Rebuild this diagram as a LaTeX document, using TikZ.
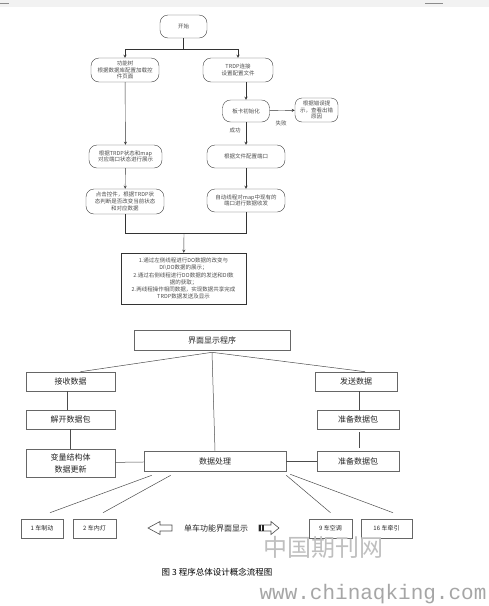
\documentclass[tikz,border=0pt]{standalone}
\usepackage{fontspec}
\setmainfont{Noto Sans CJK SC}
\newfontfamily\urlfont{Liberation Mono}
\usetikzlibrary{positioning}

\begin{document}
\begin{tikzpicture}[x=1pt,y=-1pt,>=stealth,
  fbox/.style={draw=black!75,rounded corners=8pt,align=center,inner sep=0pt,
    minimum height=23pt,font=\fontsize{5.5}{6.6}\selectfont,text=black!70},
  lbl/.style={font=\fontsize{5.5}{6.6}\selectfont,text=black!70},
  pbox/.style={draw=black!60,line width=0.6pt,align=center,inner sep=0pt,
    minimum height=19pt,font=\fontsize{8}{10}\selectfont,text=black!85},
  cbox/.style={pbox,font=\fontsize{6}{7}\selectfont},
  fan/.style={draw=black!70,line width=0.5pt}]
\useasboundingbox (0,0) rectangle (489,606);

% 页眉
\fill[black!5] (0,0) rectangle (489,7);
\draw[black!45] (0,3) -- (9,3);
\draw[black!45,line width=1pt] (425,3) -- (443,3);

% 流程图（上）
\node[fbox,minimum width=47pt] (start) at (183.5,26.5) {开始};
\node[fbox,minimum width=68pt,minimum height=24pt] (tree) at (125,70) {功能树\\根据数据库配置加载控\\件页面};
\node[fbox,minimum width=70pt,minimum height=24pt] (trdp) at (238,70) {TRDP连接\\设置配置文件};
\node[fbox,minimum width=47pt,minimum height=22pt] (init) at (246,111) {板卡初始化};
\node[fbox,minimum width=43pt,minimum height=24pt,rounded corners=7pt] (err) at (316.5,110) {根据错误提\\示，查看出错\\原因};
\node[fbox,minimum width=78pt] (cfg) at (246,156.5) {根据文件配置端口};
\node[fbox,minimum width=78pt] (auto) at (246,200.5) {自动线程对map中现有的\\端口进行数据收发};
\node[fbox,minimum width=73pt] (show) at (125.5,156.5) {根据TRDP状态和map\\对应端口状态进行展示};
\node[fbox,minimum width=78pt,minimum height=25pt] (click) at (125,201.5) {点击控件，根据TRDP状\\态判断是否改变当前状态\\和对应数据};
\node[draw=black!80,minimum width=125pt,minimum height=51pt,inner sep=0pt,align=center,
  font=\fontsize{5.5}{7.2}\selectfont,text=black!70] (note) at (183.5,278.5)
  {1.通过左侧线程进行DO数据的改变与\\DI\textbackslash DO数据的展示；\\2.通过右侧线程进行DO数据的发送和DI数\\据的获取；\\2.两线程操作相同数据，实现数据共享完成\\TRDP数据发送及显示};

\coordinate (fork) at (183.5,49);
\coordinate (merge) at (184,233);
\draw[black!80] (start) -- (fork);
\draw[black!80,->] (fork) -| (tree);
\draw[black!80,->] (fork) -| (trdp);
\draw[black!80,->] (trdp.south -| init) -- (init);
\draw[black!80,->] (init) -- (err);
\draw[black!80,->] (init) -- (cfg);
\draw[black!80,->] (cfg) -- (auto);
\draw[black!80,->] (tree) -- (show);
\draw[black!80,->] (show) -- (click);
\draw[black!80] (click) |- (merge);
\draw[black!80] (auto) |- (merge);
\draw[black!80,->] (merge) -- (note);
\node[lbl] at (235,130) {成功};
\node[lbl] at (281,123) {失败};

% 概念图（下）
\node[pbox,minimum width=156pt,minimum height=20pt] (ui) at (212,340) {界面显示程序};
\node[pbox,minimum width=89pt] (recv) at (70.5,381.5) {接收数据};
\node[pbox,minimum width=82pt] (send) at (356,381.5) {发送数据};
\node[pbox,minimum width=89pt] (unpack) at (70.5,419.5) {解开数据包};
\node[pbox,minimum width=82pt] (prepa) at (358,419.5) {准备数据包};
\node[pbox,minimum width=89pt,minimum height=28pt,font=\fontsize{8}{12}\selectfont] (update) at (70.5,463) {变量结构体\\数据更新};
\node[pbox,minimum width=142pt,minimum height=20pt] (proc) at (215,461) {数据处理};
\node[pbox,minimum width=82pt,minimum height=20pt] (prepb) at (358,461) {准备数据包};

\draw[fan] ([yshift=-2pt]ui.south) -- ([xshift=10pt]recv.north);
\draw[fan] ([yshift=-2pt]ui.south) -- ([xshift=9pt]send.north);
\draw[fan] ([yshift=-2pt]ui.south) -- (proc.north);
\draw[fan] ([xshift=-3pt]recv.south) -- ([xshift=-3pt]unpack.north);
\draw[fan] (unpack.south) -- (update.north);
\draw[fan] ([xshift=3pt]send.south) -- ([xshift=1pt]prepa.north);
\draw[fan] ([xshift=1pt,yshift=-3pt]prepa.south) -- ([xshift=1pt,yshift=3pt]prepb.north);
\draw[fan] (update) -- (proc);
\draw[fan] (proc) -- (prepb);

% 车辆
\node[cbox,minimum width=42pt] (brake) at (42,528.5) {1 车制动};
\node[cbox,minimum width=43pt] (lamp) at (94.5,528.5) {2 车内灯};
\node[cbox,minimum width=43pt] (ac) at (330.5,528.5) {9 车空调};
\node[cbox,minimum width=51pt] (traction) at (386.5,528.5) {16 车牵引};

\draw[fan] ([xshift=8pt,yshift=-4pt]proc.south west) -- ([xshift=8pt,yshift=6pt]brake.north);
\draw[fan] ([xshift=27pt,yshift=-4pt]proc.south west) -- ([xshift=8.5pt,yshift=6pt]lamp.north);
\draw[fan] ([yshift=-4pt]proc.south east) -- ([yshift=6pt]ac.north);
\draw[fan] ([xshift=4pt,yshift=-3pt]proc.south east) -- ([xshift=6.5pt,yshift=6pt]traction.north);

\node[font=\fontsize{8}{10}\selectfont,text=black!85] (single) at (216,528) {单车功能界面显示};
% 空心箭头
\draw[black!70,line width=0.6pt] (148,528) -- (160,521.5) -- (160,525) -- (172,525)
  -- (172,531) -- (160,531) -- (160,534.5) -- cycle;
\draw[black!70,line width=0.6pt] (279,528) -- (271,521.5) -- (271,525) -- (259,525)
  -- (259,531) -- (271,531) -- (271,534.5) -- cycle;
\fill[black!85] (259,525) rectangle (261,531);
\fill[black!85] (262,525) rectangle (263.5,531);

% 水印与图题
\node[text=black!25,font=\fontsize{24}{24}\selectfont] (wm) at (323,547) {中国期刊网};
\node[font=\fontsize{8.5}{10}\selectfont] (cap) at (217,572.5) {图 3 程序总体设计概念流程图};
\node[text=black!35,font=\urlfont\fontsize{21}{21}\selectfont] (url) at (373,594) {www.chinaqking.com};
\end{tikzpicture}
\end{document}
